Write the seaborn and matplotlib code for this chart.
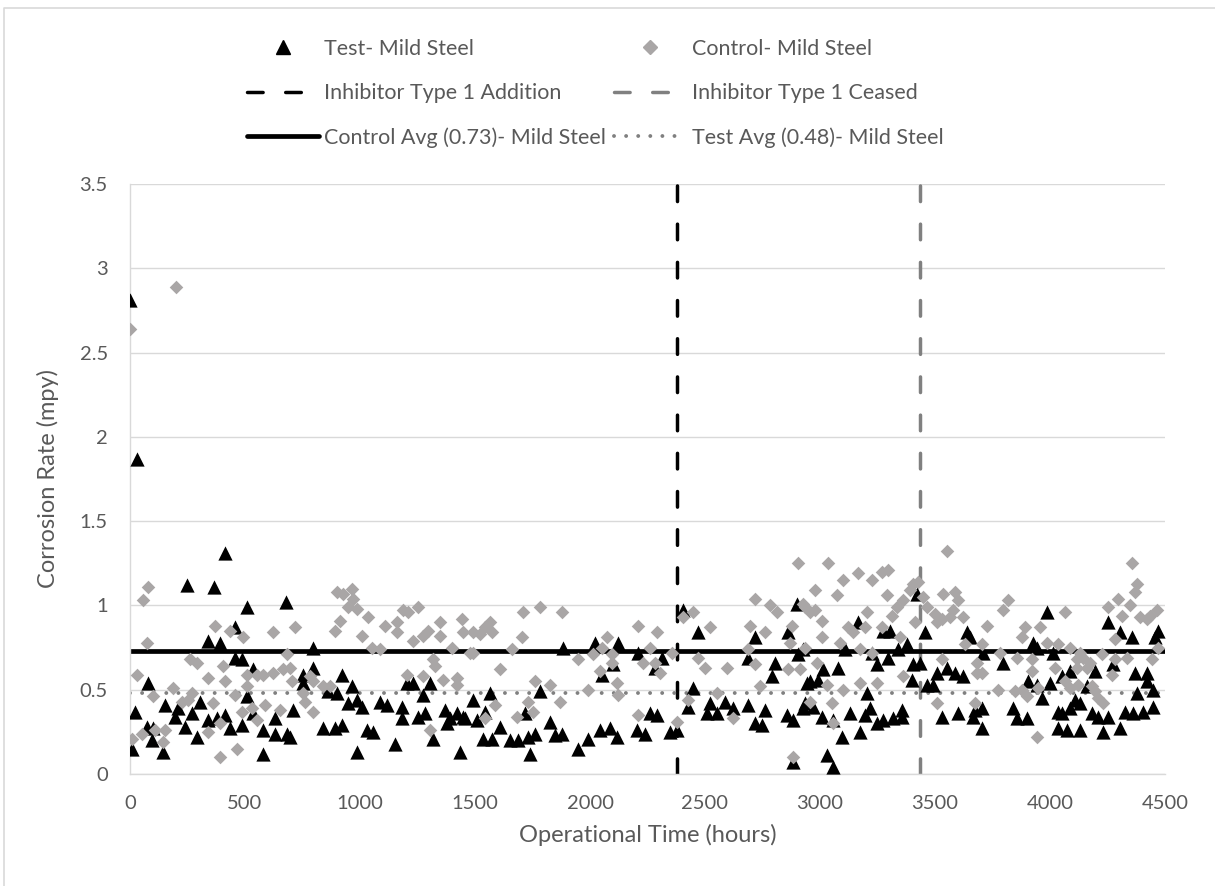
import matplotlib
matplotlib.use("Agg")
import matplotlib.pyplot as plt
from matplotlib.lines import Line2D
import seaborn as sns
import pandas as pd

# Test coupon (mild steel) readings: operational hours and corrosion rate (mpy)
test_hours = [
    0, 29, 413, 246, 365, 507, 678, 457, 340, 391, 457, 487, 535, 78, 22, 152, 196, 209, 270, 304,
    239, 291, 9, 74, 100, 96, 143, 339, 378, 413, 435, 487, 509, 535, 578, 630, 630, 683, 709, 578,
    796, 796, 752, 752, 922, 965, 900, 861, 948, 987, 1009, 1087, 1117, 1183, 1183, 1204, 1230, 1274,
    1304, 1252, 1283, 1370, 1391, 1422, 1448, 1378, 839, 891, 922, 1030, 1057, 987, 1152, 1317, 1435,
    696, 1883, 2022, 2122, 2100, 2052, 1565, 1491, 1783, 1717, 1455, 1509, 1543, 1609, 1826, 1878,
    1848, 1535, 1574, 1652, 1687, 1730, 1761, 1739, 1948, 1991, 2043, 2087, 2117, 2204, 2404, 2900,
    2470, 2717, 2861, 2904, 2804, 2791, 2943, 2209, 2313, 2283, 2687, 2448, 2426, 2522, 2587, 2622,
    2687, 2761, 2857, 2926, 2509, 2552, 2717, 2748, 2883, 2261, 2291, 2239, 2348, 2378, 2883, 3422,
    3457, 3639, 3165, 3274, 3304, 2926, 3109, 3226, 3296, 3339, 3378, 3248, 3404, 3435, 3509, 3552,
    3587, 3622, 3400, 3013, 3078, 2991, 2957, 3465, 3491, 3204, 2935, 2970, 3009, 3057, 3130, 3196,
    3217, 3248, 3274, 3317, 3357, 3357, 3530, 3600, 3665, 3096, 3174, 3030, 3057, 3987, 4252, 4304,
    4357, 4470, 4457, 3652, 3709, 3796, 3926, 3943, 4013, 4087, 4052, 4196, 4274, 4370, 4422, 4422,
    4448, 4378, 3904, 3943, 3965, 4000, 4109, 4130, 4161, 4087, 4035, 3704, 3674, 3839, 3857, 3900,
    4183, 4209, 4252, 4326, 4361, 4404, 4448, 4052, 3704, 4035, 4074, 4130, 4230, 4304,
]
test_rate = [
    2.81, 1.87, 1.31, 1.12, 1.11, 0.99, 1.02, 0.87, 0.79, 0.78, 0.69, 0.68, 0.62, 0.54, 0.37, 0.41, 0.34, 0.39, 0.36, 0.43,
    0.28, 0.22, 0.15, 0.28, 0.27, 0.20, 0.13, 0.32, 0.33, 0.35, 0.27, 0.29, 0.46, 0.36, 0.26, 0.33, 0.24, 0.24, 0.38, 0.12,
    0.75, 0.63, 0.59, 0.54, 0.59, 0.52, 0.48, 0.49, 0.42, 0.44, 0.40, 0.43, 0.41, 0.40, 0.33, 0.54, 0.54, 0.47,
    0.54, 0.34, 0.36, 0.38, 0.33, 0.36, 0.34, 0.30, 0.27, 0.27, 0.29, 0.26, 0.25, 0.13, 0.18, 0.21, 0.13,
    0.22, 0.75, 0.78, 0.78, 0.65, 0.59, 0.48, 0.44, 0.49, 0.36, 0.33, 0.32, 0.37, 0.28, 0.31, 0.24,
    0.23, 0.21, 0.21, 0.20, 0.20, 0.22, 0.24, 0.12, 0.15, 0.21, 0.26, 0.27, 0.22, 0.26, 0.97, 1.01,
    0.84, 0.81, 0.84, 0.71, 0.66, 0.58, 0.54, 0.72, 0.69, 0.63, 0.69, 0.51, 0.40, 0.42, 0.43, 0.39,
    0.41, 0.38, 0.35, 0.39, 0.36, 0.36, 0.30, 0.29, 0.32, 0.36, 0.35, 0.24, 0.25, 0.26, 0.07, 1.07,
    0.84, 0.84, 0.90, 0.85, 0.85, 0.74, 0.74, 0.72, 0.69, 0.74, 0.77, 0.65, 0.65, 0.66, 0.60, 0.63,
    0.60, 0.58, 0.56, 0.62, 0.63, 0.56, 0.55, 0.53, 0.53, 0.48, 0.42, 0.40, 0.34, 0.32, 0.36, 0.35,
    0.39, 0.30, 0.32, 0.33, 0.34, 0.38, 0.34, 0.36, 0.34, 0.22, 0.25, 0.11, 0.04, 0.96, 0.90, 0.84,
    0.81, 0.85, 0.81, 0.81, 0.72, 0.66, 0.78, 0.75, 0.72, 0.61, 0.58, 0.61, 0.65, 0.60, 0.60, 0.55,
    0.50, 0.48, 0.55, 0.53, 0.45, 0.54, 0.44, 0.42, 0.52, 0.39, 0.37, 0.39, 0.38, 0.39, 0.33, 0.33,
    0.36, 0.34, 0.34, 0.37, 0.36, 0.37, 0.40, 0.36, 0.27, 0.27, 0.26, 0.26, 0.25, 0.27,
]

# Control coupon (mild steel) readings
control_hours = [
    0, 200, 78, 57, 74, 370, 435, 491, 622, 717, 683, 261, 291, 30, 339, 404, 413, 509, 552, 578,
    622, 665, 696, 704, 100, 187, 226, 252, 270, 361, 457, 509, 487, 530, 587, 652, 391, 339, 552, 9,
    52, 109, 152, 143, 391, 465, 900, 926, 965, 970, 948, 987, 913, 891, 1035, 1009, 1052, 1087, 1109,
    1161, 1161, 1187, 1209, 1252, 1230, 1274, 1296, 1348, 1348, 1400, 1444, 1448, 1478, 1317, 1326,
    1204, 1274, 1361, 1422, 1422, 783, 796, 752, 761, 796, 839, 870, 1304, 1783, 1709, 1878, 1491,
    1522, 1543, 1565, 1574, 1704, 1661, 1491, 1609, 1761, 1826, 1587, 1543, 1683, 1730, 1752, 1870,
    1948, 2013, 2043, 2074, 2052, 2096, 2096, 2117, 2122, 1991, 2209, 2209, 2905, 2717, 2783, 2813,
    2935, 2404, 2448, 2522, 2291, 2696, 2761, 2878, 2870, 2261, 2357, 2470, 2687, 2717, 2500, 2596,
    2861, 2230, 2283, 2304, 2426, 2552, 2739, 2378, 2622, 2883, 3552, 3035, 3165, 3226, 3270, 3296,
    3100, 3074, 2978, 3291, 3404, 3426, 3391, 3361, 3335, 3313, 3413, 3448, 3465, 3500, 3535, 3587,
    3600, 3578, 3565, 3530, 3509, 3622, 2926, 2957, 2978, 3009, 3204, 3270, 3348, 3122, 3196, 3143,
    3009, 3087, 3174, 3226, 2935, 3631, 2987, 3530, 3683, 2913, 3030, 3100, 3174, 3248, 3361, 3683,
    2957, 3052, 3509, 3674, 3057, 4357, 4378, 4370, 4348, 4296, 4252, 4313, 4391, 4435, 4465, 4422,
    3818, 3796, 4065, 3726, 3891, 3878, 3957, 3987, 3704, 3783, 3857, 3922, 4035, 4087, 4130, 4143,
    4117, 4226, 4283, 4335, 4470, 4443, 3704, 3922, 4022, 4117, 4161, 4174, 4270, 4283, 3774, 3848,
    3878, 3900, 3948, 4065, 4087, 4122, 4183, 4196, 4209, 4230, 3943,
]
control_rate = [
    2.64, 2.89, 1.11, 1.03, 0.78, 0.88, 0.85, 0.81, 0.84, 0.87, 0.71, 0.68, 0.66, 0.59, 0.57, 0.64, 0.55, 0.59, 0.59, 0.59,
    0.60, 0.62, 0.63, 0.55, 0.46, 0.51, 0.43, 0.44, 0.48, 0.42, 0.47, 0.52, 0.37, 0.39, 0.41, 0.38, 0.30, 0.25, 0.32, 0.21,
    0.24, 0.26, 0.26, 0.19, 0.10, 0.15, 1.08, 1.07, 1.10, 1.04, 0.99, 0.98, 0.91, 0.85, 0.93, 0.82, 0.75, 0.74, 0.88,
    0.90, 0.84, 0.97, 0.96, 0.99, 0.79, 0.82, 0.85, 0.90, 0.82, 0.75, 0.92, 0.84, 0.72, 0.68, 0.64,
    0.59, 0.58, 0.56, 0.57, 0.53, 0.58, 0.55, 0.48, 0.43, 0.37, 0.52, 0.52, 0.26, 0.99, 0.96, 0.96, 0.84,
    0.83, 0.87, 0.90, 0.84, 0.81, 0.74, 0.72, 0.62, 0.55, 0.53, 0.41, 0.33, 0.34, 0.43, 0.37, 0.43,
    0.68, 0.71, 0.61, 0.81, 0.75, 0.71, 0.66, 0.54, 0.47, 0.50, 0.88, 0.35, 1.25, 1.04, 1.00, 0.96,
    0.99, 0.93, 0.96, 0.87, 0.84, 0.88, 0.84, 0.88, 0.78, 0.75, 0.72, 0.69, 0.74, 0.65, 0.63, 0.63,
    0.62, 0.66, 0.66, 0.60, 0.44, 0.48, 0.52, 0.31, 0.33, 0.10, 1.32, 1.25, 1.19, 1.15, 1.20, 1.21,
    1.15, 1.06, 1.09, 1.06, 1.13, 1.14, 1.09, 1.03, 0.99, 0.94, 0.90, 1.05, 0.99, 0.95, 1.07, 1.08,
    1.03, 0.97, 0.93, 0.92, 0.90, 0.93, 1.01, 0.96, 0.97, 0.91, 0.96, 0.87, 0.81, 0.87, 0.87, 0.84,
    0.81, 0.78, 0.74, 0.72, 0.75, 0.77, 0.66, 0.68, 0.66, 0.62, 0.53, 0.50, 0.54, 0.54, 0.58, 0.60,
    0.43, 0.42, 0.42, 0.42, 0.30, 1.25, 1.13, 1.08, 1.00, 1.04, 0.99, 0.94, 0.93, 0.94, 0.97, 0.92,
    1.03, 0.97, 0.96, 0.88, 0.87, 0.81, 0.87, 0.78, 0.77, 0.72, 0.69, 0.68, 0.77, 0.75, 0.72, 0.69,
    0.68, 0.71, 0.80, 0.69, 0.75, 0.68, 0.60, 0.61, 0.63, 0.63, 0.63, 0.66, 0.59, 0.68, 0.50, 0.49,
    0.50, 0.46, 0.51, 0.55, 0.51, 0.53, 0.52, 0.49, 0.45, 0.42, 0.22,
]

# Reference lines
inhibitor_added_hours = 2380
inhibitor_ceased_hours = 3435
control_avg = 0.73
test_avg = 0.48

x_ticks = [0, 500, 1000, 1500, 2000, 2500, 3000, 3500, 4000, 4500]
y_ticks = [0, 0.5, 1, 1.5, 2, 2.5, 3, 3.5]

sns.set_theme(style="white")
plt.rcParams["font.family"] = ["Lato", "DejaVu Sans"]

TEXT = "#595959"
GRID = "#d9d9d9"
DIAMOND = "#a9a6a6"
GRAYLINE = "#808080"

W, H = 1215, 886
fig = plt.figure(figsize=(W / 100, H / 100), dpi=100)
ax = fig.add_axes([130 / W, 1 - 774 / H, 1035 / W, 590 / H])

test_df = pd.DataFrame({"hours": test_hours, "rate": test_rate})
control_df = pd.DataFrame({"hours": control_hours, "rate": control_rate})

sns.scatterplot(data=test_df, x="hours", y="rate", marker="^", s=105, color="black",
                linewidth=0, ax=ax, zorder=3)
sns.scatterplot(data=control_df, x="hours", y="rate", marker="D", s=48, color=DIAMOND,
                linewidth=0, ax=ax, zorder=4)

dash_style = dict(lw=2.5, dash_capstyle="round")
dot_style = dict(lw=2.8, dashes=(0.01, 3.1), dash_capstyle="round")
ax.axvline(inhibitor_added_hours, color="black", dashes=(4.5, 6.5), zorder=2, **dash_style)
ax.axvline(inhibitor_ceased_hours, color=GRAYLINE, dashes=(4.5, 6.5), zorder=2, **dash_style)
ax.axhline(control_avg, color="black", lw=3.4, zorder=2)
ax.axhline(test_avg, color=GRAYLINE, zorder=2, **dot_style)

ax.set_xlim(0, 4500)
ax.set_ylim(0, 3.5)
ax.set_xticks(x_ticks)
ax.set_xticklabels([str(v) for v in x_ticks])
ax.set_yticks(y_ticks)
ax.set_yticklabels([f"{v:g}" for v in y_ticks])
ax.grid(axis="y", color=GRID, lw=1.0, zorder=0)
ax.set_axisbelow(True)
for side in ("top", "right"):
    ax.spines[side].set_visible(False)
for side in ("left", "bottom"):
    ax.spines[side].set_color(GRID)
    ax.spines[side].set_linewidth(1.0)
ax.tick_params(axis="both", length=0, labelsize=14.5, labelcolor=TEXT)
ax.tick_params(axis="x", pad=15)
ax.tick_params(axis="y", pad=16)

ax.set_xlabel("Operational Time (hours)", fontsize=17, color=TEXT, va="center")
ax.set_ylabel("Corrosion Rate (mpy)", fontsize=17, color=TEXT, va="center")
ax.xaxis.set_label_coords(0.5, -(835 - 774) / 590)
ax.yaxis.set_label_coords(-(130 - 48) / 1035, 0.5)

handles = [
    Line2D([], [], ls="none", marker="^", ms=10, color="black"),
    Line2D([], [], color="black", dashes=(4.5, 6.5), **dash_style),
    Line2D([], [], color="black", lw=3.4),
    Line2D([], [], ls="none", marker="D", ms=7.5, color=DIAMOND),
    Line2D([], [], color=GRAYLINE, dashes=(4.5, 6.5), **dash_style),
    Line2D([], [], color=GRAYLINE, **dot_style),
]
labels = [
    "Test- Mild Steel",
    "Inhibitor Type 1 Addition",
    "Control Avg (0.73)- Mild Steel",
    "Control- Mild Steel",
    "Inhibitor Type 1 Ceased",
    "Test Avg (0.48)- Mild Steel",
]
leg = fig.legend(handles, labels, ncol=2, loc="upper left",
                 bbox_to_anchor=(247 / W, 1 - 39 / H), frameon=False,
                 fontsize=15.5, handlelength=3.35, handletextpad=0.25, columnspacing=0.37,
                 labelspacing=1.12, borderpad=0, borderaxespad=0)
for t in leg.get_texts():
    t.set_color(TEXT)

# Chart-area outline (left and top edges)
fig.add_artist(Line2D([4 / W, 4 / W, 1], [0, 1 - 8 / H, 1 - 8 / H],
                      transform=fig.transFigure, color=GRID, lw=1.2))

fig.savefig("out.png", dpi=100)
